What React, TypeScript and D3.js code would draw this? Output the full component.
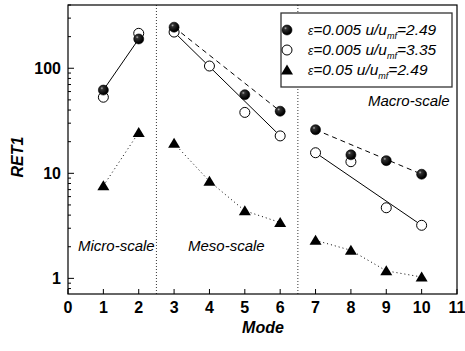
import React from "react";
import * as d3 from "d3";

const modes = [1, 2, 3, 4, 5, 6, 7, 8, 9, 10];
const filledVals: (number | null)[] = [62, 190, 246, null, 56, 39, 26, 15, 13.2, 9.8];
const openVals: (number | null)[] = [53, 215, 221, 105, 38, 22.7, 15.7, 12.9, 4.7, 3.2];
const triVals: (number | null)[] = [7.6, 24.5, 19.3, 8.4, 4.4, 3.4, 2.3, 1.85, 1.18, 1.03];
const groups = [[1, 2], [3, 4, 5, 6], [7, 8, 9, 10]];
const xTicks = [0, 1, 2, 3, 4, 5, 6, 7, 8, 9, 10, 11];
const yMajor = [1, 10, 100];
const dividers = [2.5, 6.5];
const scaleLabels = ["Micro-scale", "Meso-scale", "Macro-scale"];
const legendLabels = [
  { eps: "0.005", ratio: "2.49" },
  { eps: "0.005", ratio: "3.35" },
  { eps: "0.05", ratio: "2.49" },
];

const W = 465, H = 351;
const m = { l: 68, t: 5, r: 8, b: 57 };
const FONT = "'Liberation Sans', Arial, sans-serif";

export default function App() {
  const x = d3.scaleLinear().domain([0, 11]).range([m.l, W - m.r]);
  const y = d3.scaleLog().domain([0.71, 400]).range([H - m.b, m.t]);
  const minor: number[] = [];
  for (const dec of [0.1, 1, 10, 100]) for (let k = 2; k <= 9; k++) {
    const v = dec * k;
    if (v >= 0.71 && v <= 400) minor.push(v);
  }
  const pts = (vals: (number | null)[], g: number[]) =>
    g.map((md) => [md, vals[md - 1]] as [number, number | null]).filter((p) => p[1] != null) as [number, number][];
  const line = d3.line<[number, number]>().x((d) => x(d[0])).y((d) => y(d[1]));
  const ends = (p: [number, number][]) => [p[0], p[p.length - 1]];

  const sphere = (cx: number, cy: number, k: string) => (
    <circle key={k} cx={cx} cy={cy} r={5} fill="url(#sph)" stroke="#000" strokeWidth={0.6} />
  );
  const open = (cx: number, cy: number, k: string) => (
    <circle key={k} cx={cx} cy={cy} r={5} fill="#fff" stroke="#000" strokeWidth={1} />
  );
  const tri = (cx: number, cy: number, k: string) => (
    <path key={k} d={`M${cx},${cy - 5.5}L${cx + 6},${cy + 4.5}L${cx - 6},${cy + 4.5}Z`} fill="#000" />
  );

  return (
    <svg width={W} height={H} style={{ position: "absolute", left: 0, top: 0 }} fontFamily={FONT}>
      <defs>
        <radialGradient id="sph" cx="35%" cy="32%" r="60%">
          <stop offset="0%" stopColor="#b0b0b0" />
          <stop offset="25%" stopColor="#303030" />
          <stop offset="100%" stopColor="#000" />
        </radialGradient>
      </defs>
      <rect x={0} y={0} width={W} height={H} fill="#fff" />
      {dividers.map((d) => (
        <line key={d} x1={x(d)} x2={x(d)} y1={m.t} y2={H - m.b} stroke="#000" strokeWidth={0.8} strokeDasharray="1,2" />
      ))}
      {groups.map((g, i) => {
        const fp = pts(filledVals, g);
        const op = pts(openVals, g);
        const tp = pts(triVals, g);
        return (
          <g key={i} fill="none" stroke="#000">
            <path d={line(ends(fp) as [number, number][]) || ""} strokeWidth={1} strokeDasharray={i === 0 ? undefined : "5,4"} />
            {i > 0 && <path d={line(ends(op) as [number, number][]) || ""} strokeWidth={1} />}
            <path d={line(tp) || ""} strokeWidth={1} strokeDasharray="1,3" />
          </g>
        );
      })}
      {modes.map((md, i) => triVals[i] != null && tri(x(md), y(triVals[i] as number), "t" + i))}
      {modes.map((md, i) => openVals[i] != null && open(x(md), y(openVals[i] as number), "o" + i))}
      {modes.map((md, i) => filledVals[i] != null && sphere(x(md), y(filledVals[i] as number), "f" + i))}
      <rect x={m.l} y={m.t} width={W - m.l - m.r} height={H - m.t - m.b} fill="none" stroke="#000" strokeWidth={1.2} />
      {xTicks.map((t) => (
        <g key={t}>
          <line x1={x(t)} x2={x(t)} y1={H - m.b} y2={H - m.b - 5} stroke="#000" strokeWidth={1} />
          <text x={x(t)} y={313} textAnchor="middle" fontWeight="bold" fontSize={16}>{t}</text>
        </g>
      ))}
      {yMajor.map((t) => (
        <g key={t}>
          <line x1={m.l} x2={m.l + 6} y1={y(t)} y2={y(t)} stroke="#000" strokeWidth={1} />
          <text x={61} y={y(t) + 6} textAnchor="end" fontWeight="bold" fontSize={16}>{t}</text>
        </g>
      ))}
      {minor.map((t) => (
        <line key={t} x1={m.l} x2={m.l + 3} y1={y(t)} y2={y(t)} stroke="#000" strokeWidth={1} />
      ))}
      <text x={263} y={333} textAnchor="middle" fontWeight="bold" fontStyle="italic" fontSize={16}>Mode</text>
      <text transform={`translate(23,157) rotate(-90)`} textAnchor="middle" fontWeight="bold" fontStyle="italic" fontSize={16}>RET1</text>
      <text x={78} y={251} fontStyle="italic" fontSize={15}>{scaleLabels[0]}</text>
      <text x={188} y={251} fontStyle="italic" fontSize={15}>{scaleLabels[1]}</text>
      <text x={368} y={106} fontStyle="italic" fontSize={15}>{scaleLabels[2]}</text>
      <rect x={281} y={13} width={171} height={74} fill="#fff" stroke="#333" strokeWidth={1.3} />
      {legendLabels.map((l, i) => {
        const cy = 30 + i * 20;
        const mk = i === 0 ? sphere(287, cy, "ls") : i === 1 ? open(287, cy, "lo") : tri(287, cy, "lt");
        return (
          <g key={i}>
            {mk}
            <text x={308} y={cy + 5} fontStyle="italic" fontSize={15.5}>
              <tspan fontSize={12}>ε</tspan>
              <tspan>{"=" + l.eps + " u/u"}</tspan>
              <tspan fontSize={9} dy={4}>mf</tspan>
              <tspan dy={-4}>{"=" + l.ratio}</tspan>
            </text>
          </g>
        );
      })}
    </svg>
  );
}
